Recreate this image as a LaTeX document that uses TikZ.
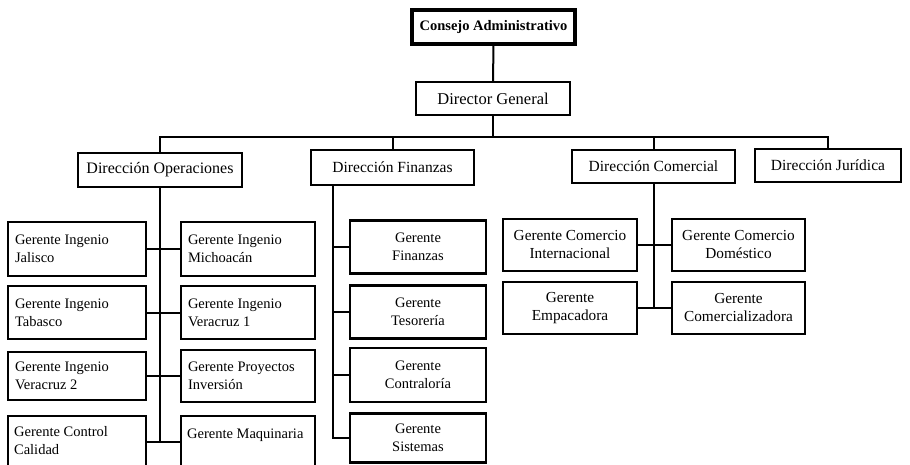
\documentclass[tikz,border=0pt]{standalone}
\usepackage{fontspec}
\setmainfont{Liberation Serif}
\begin{document}
\begin{tikzpicture}[x=1pt,y=-1pt,
  box/.style={draw, line width=2.2pt, inner sep=0pt, font=\fontsize{14.5}{18}\selectfont, align=center},
  dirbox/.style={box, font=\fontsize{15.5}{18}\selectfont},
  combox/.style={box, font=\fontsize{15.3}{18}\selectfont},
  lbox/.style={box, align=flush left, inner xsep=7pt},
  lbl/.style={inner sep=0pt, font=\fontsize{14.5}{18}\selectfont, align=flush left, anchor=north west, xshift=7pt, yshift=-11pt},
  conn/.style={line width=2pt}]
\useasboundingbox (0,0) rectangle (910,464);
\clip (0,0) rectangle (910,464);
% top
\node[box, line width=3.5pt, font={\fontsize{14.5}{18}\selectfont\bfseries}, minimum width=163pt, minimum height=34pt] (cons) at (493.5,27) {Consejo Administrativo};
\node[box, font=\fontsize{16.5}{18}\selectfont, minimum width=154pt, minimum height=33pt] (dg) at (493,98.5) {Director General};
% directions
\node[dirbox, font=\fontsize{16}{18}\selectfont, minimum width=164pt, minimum height=34pt] (dop) at (160,170) {Dirección Operaciones};
\node[dirbox, minimum width=163pt, minimum height=35pt] (dfi) at (392.5,167.5) {Dirección Finanzas};
\node[dirbox, minimum width=163pt, minimum height=33pt] (dco) at (653.5,166.5) {Dirección Comercial};
\node[dirbox, minimum width=146pt, minimum height=33pt] (dju) at (828,165.5) {Dirección Jurídica};
% operaciones left
\node[lbox, text width=124pt, minimum width=138pt, minimum height=54pt] (jal) at (77,249) {Gerente Ingenio\\Jalisco};
\node[lbox, text width=124pt, minimum width=138pt, minimum height=53pt] (tab) at (77,312.5) {Gerente Ingenio\\Tabasco};
\node[lbox, text width=124pt, minimum width=138pt, minimum height=48pt] (ver2) at (77,376) {Gerente Ingenio\\Veracruz 2};
\node[box, minimum width=138pt, minimum height=64pt, label={[lbl]north west:Gerente Control\\Calidad}] (cc) at (77,448) {};
% operaciones right
\node[lbox, text width=120pt, minimum width=134pt, minimum height=54pt] (mich) at (248,249) {Gerente Ingenio\\Michoacán};
\node[lbox, text width=120pt, minimum width=134pt, minimum height=53pt] (ver1) at (248,312.5) {Gerente Ingenio\\Veracruz 1};
\node[lbox, text width=120pt, minimum width=134pt, minimum height=52pt] (proy) at (248,376) {Gerente Proyectos\\Inversión};
\node[box, minimum width=134pt, minimum height=64pt, label={[lbl, yshift=-3pt]north west:Gerente Maquinaria}] (maq) at (248,448) {};
% finanzas
\node[box, minimum width=136pt, minimum height=53pt] (gfin) at (418,247) {Gerente\\Finanzas};
\node[box, minimum width=136pt, minimum height=53pt] (gtes) at (418,312) {Gerente\\Tesorería};
\node[box, minimum width=136pt, minimum height=54pt] (gcon) at (418,375) {Gerente\\Contraloría};
\node[box, minimum width=136pt, minimum height=49pt] (gsis) at (418,438) {Gerente\\Sistemas};
% comercial
\node[combox, minimum width=134pt, minimum height=52pt] (gci) at (570,245) {Gerente Comercio\\Internacional};
\node[combox, minimum width=133pt, minimum height=52pt] (gcd) at (738.5,245) {Gerente Comercio\\Doméstico};
\node[combox, minimum width=134pt, minimum height=52pt] (gemp) at (570,308) {Gerente\\Empacadora};
\node[combox, minimum width=133pt, minimum height=52pt] (gcom) at (738.5,308) {Gerente\\Comercializadora};
% connectors top
\coordinate (bus) at (493,137);
\draw[conn] (cons) -- (dg);
\draw[conn] (dg.south) -- (bus);
\draw[conn] (dop.north) |- (bus) -| (dju.north);
\draw[conn] (bus -| dfi.north) -- (dfi.north);
\draw[conn] (bus -| dco.north) -- (dco.north);
% operaciones
\coordinate (ot) at (160,442);
\draw[conn] (dop.south) -- (ot);
\draw[conn] (jal) -- (mich);
\draw[conn] (tab) -- (ver1);
\draw[conn] (ver2) -- (proy);
\draw[conn] (cc.east |- ot) -- (maq.west |- ot);
% finanzas
\coordinate (ft) at (333,185);
\draw[conn] (ft) |- (gsis.west);
\draw[conn] (ft |- gfin.west) -- (gfin.west);
\draw[conn] (ft |- gtes.west) -- (gtes.west);
\draw[conn] (ft |- gcon.west) -- (gcon.west);
% comercial
\draw[conn] (dco.south) -- (dco.south |- gemp.east);
\draw[conn] (gci) -- (gcd);
\draw[conn] (gemp) -- (gcom);
\end{tikzpicture}
\end{document}
